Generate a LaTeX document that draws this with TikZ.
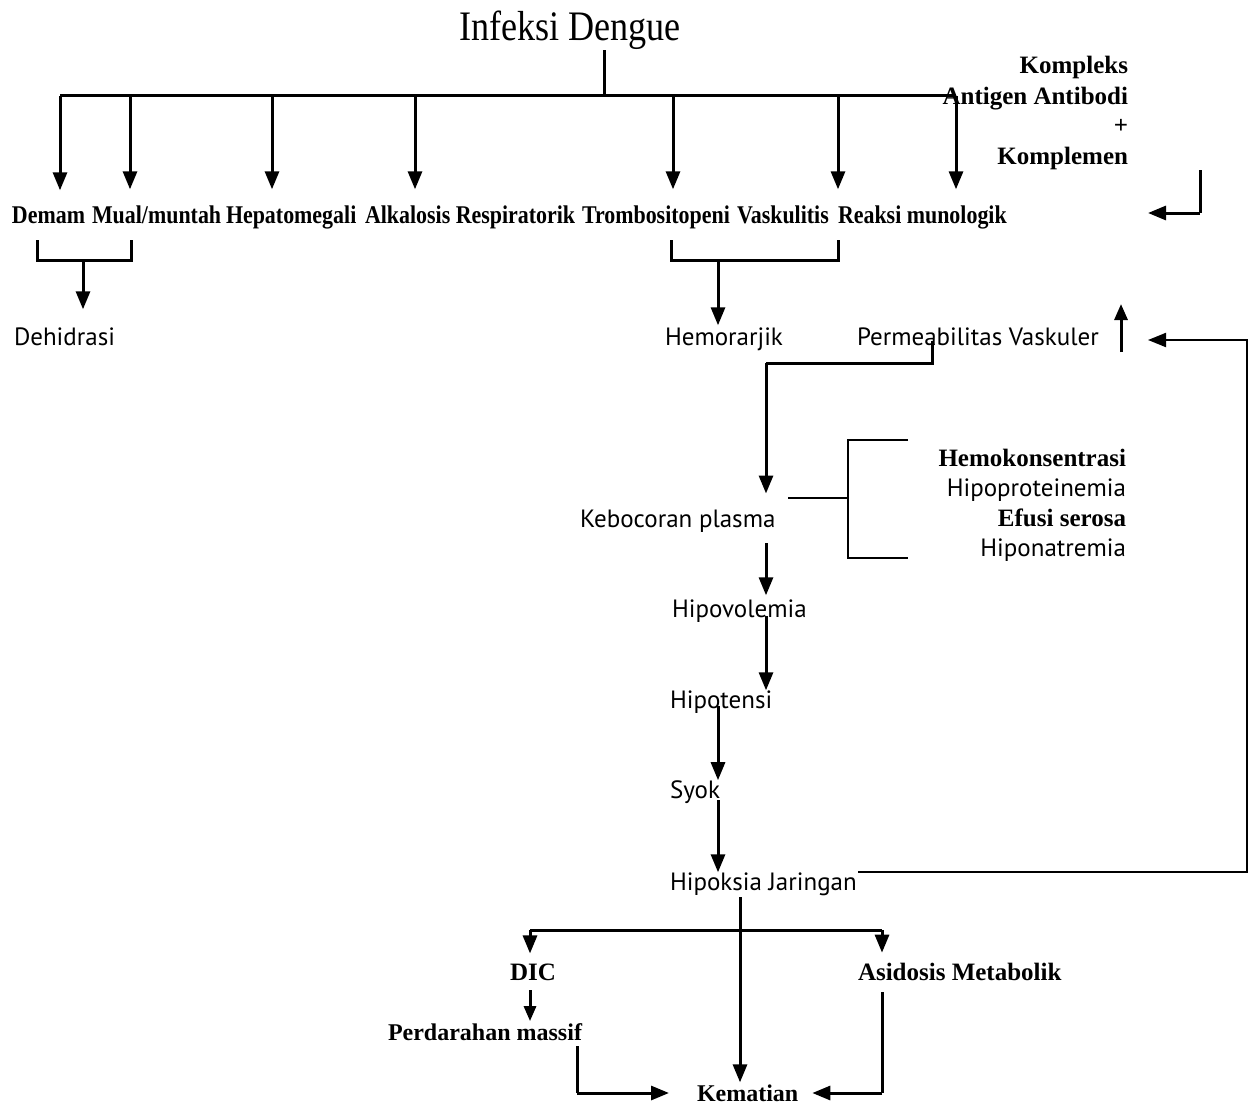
\documentclass[tikz,border=0pt]{standalone}
\usepackage{fontspec}
\setmainfont{Liberation Serif}
\newfontfamily\condserif[FakeStretch=0.86]{Liberation Serif}
\newfontfamily\hum{PT Sans}
\usetikzlibrary{arrows.meta}
\begin{document}
\begin{tikzpicture}[x=1pt,y=-1pt,
  every node/.style={inner sep=0pt,outer sep=0pt},
  blbl/.style={font=\condserif\bfseries\fontsize{25.5}{28}\selectfont,anchor=base west},
  plbl/.style={font=\bfseries\fontsize{25}{28}\selectfont,anchor=base west},
  plblr/.style={plbl,anchor=base east},
  slbl/.style={font=\hum\fontsize{25}{28}\selectfont,anchor=base west},
  slblr/.style={slbl,anchor=base east},
  ln/.style={line width=3pt},
  thin/.style={line width=2pt},
  arr/.style={ln,-{Triangle[width=14pt,length=18pt]}},
  sarr/.style={ln,-{Triangle[width=13pt,length=16pt]}}]
\useasboundingbox[fill=white] (0,0) rectangle (1249,1105);

% ---- title and first-level effects
\node[font=\condserif\fontsize{42}{46}\selectfont,anchor=base] (title) at (570,41) {Infeksi Dengue};

\node[blbl] (demam) at (12,223) {Demam};
\node[blbl] (mual) at (92,223) {Mual/muntah};
\node[blbl] (hepa) at (226,223) {Hepatomegali};
\node[blbl] (alka) at (365,223) {Alkalosis Respiratorik};
\node[blbl] (tromb) at (582,223) {Trombositopeni};
\node[blbl] (vask) at (737,223) {Vaskulitis};
\node[blbl] (reaksi) at (838,223) {Reaksi munologik};

\node[plblr] (kompleks) at (1128,74) {Kompleks};
\node[plblr] (antigen) at (1128,105) {Antigen Antibodi};
\node[plblr] (plus) at (1128,133) {+};
\node[plblr] (komplemen) at (1128,164) {Komplemen};

% ---- stem and distribution bus
\coordinate (stem) at (604,96);
\coordinate (b1) at (60,96);
\coordinate (b2) at (130,96);
\coordinate (b3) at (272,96);
\coordinate (b4) at (415,96);
\coordinate (b5) at (673,96);
\coordinate (b6) at (838,96);
\coordinate (b7) at (956,96);
\draw[ln] (title.south -| stem) -- (stem);
\draw[ln] (b1) -- (b7);
\draw[arr,shorten >=16pt] (b1) -- (b1 |- demam.north);
\draw[arr,shorten >=16pt] (b2) -- (b2 |- mual.north);
\draw[arr,shorten >=16pt] (b3) -- (b3 |- hepa.north);
\draw[arr,shorten >=16pt] (b4) -- (b4 |- alka.north);
\draw[arr,shorten >=16pt] (b5) -- (b5 |- tromb.north);
\draw[arr,shorten >=16pt] (b6) -- (b6 |- vask.north);
\draw[arr,shorten >=16pt] (b7) -- (b7 |- reaksi.north);

% ---- immune complex feeding the immunological reaction
\coordinate (kc1) at (1200,170);
\coordinate (kc2) at (1200,213);
\coordinate (kc3) at (1148,213);
\draw[ln] (kc1) -- (kc2);
\draw[arr] (kc2) -- (kc3);

% ---- dehydration
\node[slbl] (dehidrasi) at (14,345) {Dehidrasi};
\coordinate (d1) at (37,240);
\coordinate (d2) at (37,260);
\coordinate (d3) at (131,260);
\coordinate (d4) at (131,240);
\coordinate (dm) at (83,260);
\draw[ln] (d1) -- (d2) -- (d3) -- (d4);
\draw[arr,shorten >=18pt] (dm) -- (dm |- dehidrasi.north);

% ---- haemorrhage
\node[slbl] (hemo) at (665,345) {Hemorarjik};
\coordinate (h1) at (671,240);
\coordinate (h2) at (671,260);
\coordinate (h3) at (838,260);
\coordinate (h4) at (838,240);
\coordinate (hm) at (718,260);
\draw[ln] (h1) -- (h2) -- (h3) -- (h4);
\draw[arr,shorten >=2pt] (hm) -- (hm |- hemo.north);

% ---- vascular permeability
\node[slbl] (perm) at (857,345) {Permeabilitas Vaskuler};
\coordinate (up1) at (1121,352);
\coordinate (up2) at (1121,304);
\draw[sarr] (up1) -- (up2);

\node[slbl] (kebocoran) at (580,527) {Kebocoran plasma};
\coordinate (p1) at (932,341);
\coordinate (p2) at (932,363);
\coordinate (p3) at (766,363);
\draw[ln] (p1) -- (p2) -- (p3);
\draw[arr,shorten >=16pt] (p3) -- (p3 |- kebocoran.north);

% ---- laboratory findings of plasma leakage
\node[plblr] (hk) at (1126,466) {Hemokonsentrasi};
\node[slblr] (hp) at (1126,496) {Hipoproteinemia};
\node[plblr] (ef) at (1126,526) {Efusi serosa};
\node[slblr] (hn) at (1126,556) {Hiponatremia};
\coordinate (k1) at (788,498);
\coordinate (k2) at (848,498);
\coordinate (k3) at (848,440);
\coordinate (k4) at (908,440);
\coordinate (k5) at (848,558);
\coordinate (k6) at (908,558);
\draw[thin] (k1) -- (k2);
\draw[thin] (k4) -- (k3) -- (k5) -- (k6);

% ---- shock cascade
\node[slbl] (hipovol) at (672,617) {Hipovolemia};
\node[slbl] (hipotensi) at (670,708) {Hipotensi};
\node[slbl] (syok) at (670,798) {Syok};
\node[slbl] (hipoksia) at (670,890) {Hipoksia Jaringan};

\coordinate (c1) at (766,543);
\draw[arr,shorten >=4pt] (c1) -- (c1 |- hipovol.north);
\coordinate (c2) at (766,616);
\draw[arr] (c2) -- (c2 |- hipotensi.north);
\coordinate (c3) at (718,706);
\draw[arr] (c3) -- (c3 |- syok.north);
\coordinate (c4) at (718,800);
\draw[arr] (c4) -- (c4 |- hipoksia.north);

% ---- feedback from tissue hypoxia to vascular permeability
\coordinate (f1) at (858,872);
\coordinate (f2) at (1247,872);
\coordinate (f3) at (1247,340);
\coordinate (f4) at (1148,340);
\draw[thin,-{Triangle[width=14pt,length=18pt]}] (f1) -- (f2) -- (f3) -- (f4);

% ---- complications and death
\node[plbl] (dic) at (510,980) {DIC};
\node[plbl] (asid) at (858,980) {Asidosis Metabolik};
\node[plbl,font=\bfseries\fontsize{24}{28}\selectfont] (perd) at (388,1040) {Perdarahan massif};
\node[plbl,font=\bfseries\fontsize{24}{28}\selectfont] (kemat) at (697,1101) {Kematian};

\coordinate (x0) at (740,897);
\coordinate (xl) at (530,930);
\coordinate (xr) at (882,930);
\draw[ln] (xl) -- (xr);
\draw[arr,shorten >=2pt] (x0) -- (x0 |- kemat.north);
\draw[arr,shorten >=10pt] (xl) -- (xl |- dic.north);
\draw[arr,shorten >=10pt] (xr) -- (xr |- asid.north);

\coordinate (dc) at (530,990);
\draw[ln,-{Triangle[width=12pt,length=15pt]},shorten >=2pt] (dc) -- (dc |- perd.north);

\coordinate (m1) at (577,1046);
\coordinate (m2) at (577,1093);
\draw[ln] (m1) -- (m2);
\draw[arr,shorten >=28pt] (m2) -- (m2 -| kemat.west);

\coordinate (a1) at (882,992);
\coordinate (a2) at (882,1093);
\draw[ln] (a1) -- (a2);
\draw[arr,shorten >=14pt] (a2) -- (a2 -| kemat.east);
\end{tikzpicture}
\end{document}
